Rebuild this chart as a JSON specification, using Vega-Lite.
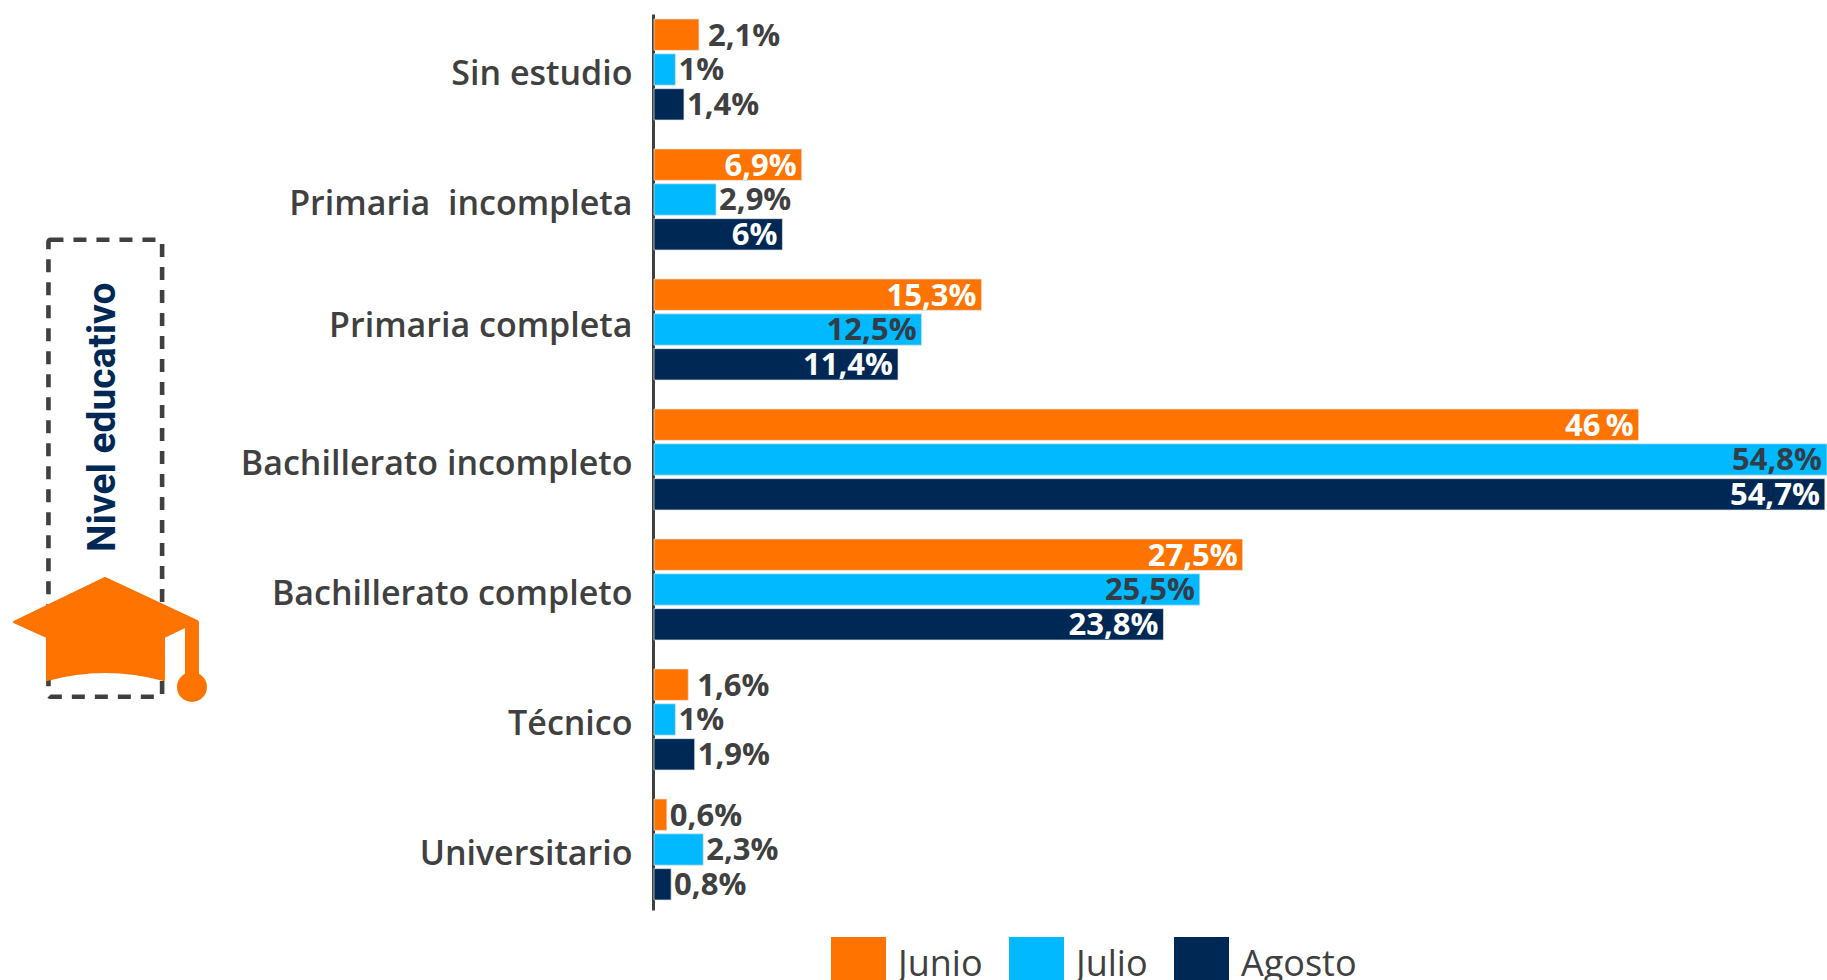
{
"$schema":"https://vega.github.io/schema/vega-lite/v6.json",
"autosize":"none",
"padding":{"left":654,"top":14,"right":0,"bottom":70},
"width":1173,"height":896,
"background":"white",
"config":{"view":{"stroke":null},"text":{"font":"Open Sans"}},
"datasets":{"niveles":[
{"nivel":"Sin estudio","mes":"Junio","valor":2.1,"etiqueta":"2,1%","dentro":false},
{"nivel":"Sin estudio","mes":"Julio","valor":1,"etiqueta":"1%","dentro":false},
{"nivel":"Sin estudio","mes":"Agosto","valor":1.4,"etiqueta":"1,4%","dentro":false},
{"nivel":"Primaria\u00a0 incompleta","mes":"Junio","valor":6.9,"etiqueta":"6,9%","dentro":true},
{"nivel":"Primaria\u00a0 incompleta","mes":"Julio","valor":2.9,"etiqueta":"2,9%","dentro":false},
{"nivel":"Primaria\u00a0 incompleta","mes":"Agosto","valor":6,"etiqueta":"6%","dentro":true},
{"nivel":"Primaria completa","mes":"Junio","valor":15.3,"etiqueta":"15,3%","dentro":true},
{"nivel":"Primaria completa","mes":"Julio","valor":12.5,"etiqueta":"12,5%","dentro":true},
{"nivel":"Primaria completa","mes":"Agosto","valor":11.4,"etiqueta":"11,4%","dentro":true},
{"nivel":"Bachillerato incompleto","mes":"Junio","valor":46,"etiqueta":"46\u2009%","dentro":true},
{"nivel":"Bachillerato incompleto","mes":"Julio","valor":54.8,"etiqueta":"54,8%","dentro":true},
{"nivel":"Bachillerato incompleto","mes":"Agosto","valor":54.7,"etiqueta":"54,7%","dentro":true},
{"nivel":"Bachillerato completo","mes":"Junio","valor":27.5,"etiqueta":"27,5%","dentro":true},
{"nivel":"Bachillerato completo","mes":"Julio","valor":25.5,"etiqueta":"25,5%","dentro":true},
{"nivel":"Bachillerato completo","mes":"Agosto","valor":23.8,"etiqueta":"23,8%","dentro":true},
{"nivel":"Técnico","mes":"Junio","valor":1.6,"etiqueta":"1,6%","dentro":false},
{"nivel":"Técnico","mes":"Julio","valor":1,"etiqueta":"1%","dentro":false},
{"nivel":"Técnico","mes":"Agosto","valor":1.9,"etiqueta":"1,9%","dentro":false},
{"nivel":"Universitario","mes":"Junio","valor":0.6,"etiqueta":"0,6%","dentro":false},
{"nivel":"Universitario","mes":"Julio","valor":2.3,"etiqueta":"2,3%","dentro":false},
{"nivel":"Universitario","mes":"Agosto","valor":0.8,"etiqueta":"0,8%","dentro":false}
]},
"resolve":{"scale":{"y":"independent"}},
"layer":[
{
"data":{"name":"niveles"},
"encoding":{
 "y":{"field":"nivel","type":"nominal","sort":null,"title":null,
  "scale":{"paddingInner":0.223,"paddingOuter":0.0577,"align":0.333},
  "axis":{"domain":true,"domainColor":"#404040","domainWidth":3,"offset":1,"ticks":false,"grid":false,"labelFont":"Open Sans","labelFontSize":34,"labelFontWeight":600,"labelColor":"#404040","labelPadding":21,"labelLimit":500,
   "labelOffset":{"expr":"datum.value==='Primaria completa'?-2:6"}}},
 "yOffset":{"field":"mes","type":"nominal","sort":["Junio","Julio","Agosto"],"scale":{"paddingInner":0.1,"paddingOuter":0}},
 "x":{"field":"valor","type":"quantitative","title":null,"scale":{"domain":[0,54.8],"nice":false,"zero":false},"axis":null}
},
"layer":[
 {"mark":{"type":"bar","stroke":"#dfe3e8","strokeWidth":0.7},
  "encoding":{"color":{"field":"mes","type":"nominal","title":null,
   "scale":{"domain":["Junio","Julio","Agosto"],"range":["#ff7300","#00b9ff","#002855"]},
   "legend":{"orient":"none","legendX":177,"legendY":923,"direction":"horizontal","columns":3,"symbolType":"square","symbolSize":3025,"symbolStrokeWidth":0,"symbolOpacity":1,"labelFont":"Open Sans","labelFontSize":36,"labelColor":"#404040","labelOffset":12,"columnPadding":26,"gridAlign":"none","labelLimit":300}}}},
 {"transform":[{"filter":"datum.dentro"}],
  "mark":{"type":"text","align":"right","baseline":"middle","dx":-5,"dy":2,"font":"Open Sans","fontSize":31,"fontWeight":700},
  "encoding":{"text":{"field":"etiqueta"},"color":{"condition":{"test":"datum.mes==='Julio'","value":"#333d47"},"value":"#ffffff"}}},
 {"transform":[{"filter":"!datum.dentro && datum.etiqueta!=='2,1%' && datum.etiqueta!=='1,6%'"}],
  "mark":{"type":"text","align":"left","baseline":"middle","dx":3,"dy":2,"font":"Open Sans","fontSize":31,"fontWeight":700,"color":"#404040"},
  "encoding":{"text":{"field":"etiqueta"}}},
 {"transform":[{"filter":"datum.etiqueta==='2,1%' || datum.etiqueta==='1,6%'"}],
  "mark":{"type":"text","align":"left","baseline":"middle","dx":9,"dy":2,"font":"Open Sans","fontSize":31,"fontWeight":700,"color":"#404040"},
  "encoding":{"text":{"field":"etiqueta"}}}
]
},
{
"layer":[
 {"data":{"values":[{"x":-28.29,"x2":-22.98,"y":25.2,"y2":76.2}]},
  "mark":{"type":"rect","fill":null,"stroke":"#404040","strokeWidth":4.6,"strokeDash":[13,10],"cornerRadius":2,"clip":false},
  "encoding":{
   "x":{"field":"x","type":"quantitative","title":null,"axis":null},"x2":{"field":"x2"},
   "y":{"field":"y","type":"quantitative","title":null,"axis":null,"scale":{"domain":[0,100],"reverse":true,"nice":false,"zero":false}},"y2":{"field":"y2"}}},
 {"data":{"values":[{"x":-25.75,"y":45,"t":"Nivel educativo"}]},
  "mark":{"type":"text","angle":270,"align":"center","baseline":"middle","font":"Roboto","fontWeight":700,"fontSize":39,"color":"#002855"},
  "encoding":{
   "x":{"field":"x","type":"quantitative","axis":null,"title":null},
   "y":{"field":"y","type":"quantitative","title":null,"axis":null},
   "text":{"field":"t"}}},
 {"data":{"values":[{"x":-25.65,"y":68.75}]},
  "mark":{"type":"point","filled":true,"opacity":1,"size":4,"color":"#ff7300","stroke":"#ff7300","strokeWidth":2,"strokeJoin":"round",
   "shape":"M0 -52 L92 -9 L59 7 L59 50 Q0 34 -58 50 L-58 7 L-91 -8 Z M81 -8 L93 -8 L93 50 L81 50 Z M73 57 A14 14 0 1 1 101 57 A14 14 0 1 1 73 57 Z"},
  "encoding":{
   "x":{"field":"x","type":"quantitative","axis":null,"title":null},
   "y":{"field":"y","type":"quantitative","title":null,"axis":null}}}
]
}
]
}
